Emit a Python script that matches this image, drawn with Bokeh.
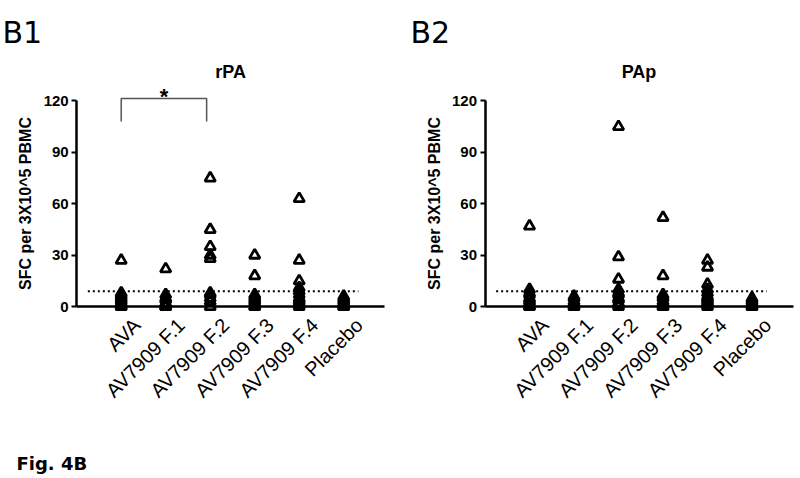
import math
from bokeh.plotting import figure
from bokeh.layouts import row
from bokeh.models import Range1d, FixedTicker, Label, ColumnDataSource
from bokeh.embed import file_html
from bokeh.resources import INLINE

# ---------------- data ----------------
groups = ["AVA", "AV7909 F.1", "AV7909 F.2", "AV7909 F.3", "AV7909 F.4", "Placebo"]
y_ticks = [0, 30, 60, 90, 120]
threshold = 9

rpa_ava = [27, 8, 7, 6, 5, 4, 3, 2, 1, 0, 0]
rpa_f1 = [22, 7, 5, 4, 2, 1, 0, 0, 0]
rpa_f2 = [75, 45, 35, 30, 28, 8, 7, 5, 3, 0]
rpa_f3 = [30, 18, 7, 6, 5, 4, 3, 2, 1, 0, 0]
rpa_f4 = [63, 27, 15, 11, 9, 7, 5, 4, 3, 2, 1, 0]
rpa_placebo = [6, 5, 4, 3, 2, 1, 0, 0]

pap_ava = [47, 10, 8, 7, 5, 4, 3, 2, 1, 0, 0]
pap_f1 = [6, 5, 3, 2, 1, 0, 0]
pap_f2 = [105, 29, 16, 10, 8, 7, 5, 4, 2, 1, 0]
pap_f3 = [52, 18, 7, 6, 5, 3, 2, 1, 0, 0]
pap_f4 = [27, 23, 13, 10, 8, 6, 5, 4, 3, 2, 1, 0]
pap_placebo = [5, 4, 3, 2, 1, 0, 0]

rpa_series = [rpa_ava, rpa_f1, rpa_f2, rpa_f3, rpa_f4, rpa_placebo]
pap_series = [pap_ava, pap_f1, pap_f2, pap_f3, pap_f4, pap_placebo]

FONT = "Liberation Sans"
TAG_FONT = "DejaVu Sans"

AX_X0, AX_X1 = -1.0, 5.92     # extent of the x axis line (category units)
Y_LO, Y_HI = -100.25, 178.58   # visible value range (frame covers the whole canvas)
LABEL_SHIFT = 0.35             # rotated category labels sit slightly right of their slot


def make_panel(series, title, tag, x_lo, x_hi, ax_x1, bracket=False, footer=False):
    p = figure(width=400, height=478, output_backend="svg", toolbar_location=None,
               x_range=Range1d(x_lo, x_hi), y_range=Range1d(Y_LO, Y_HI),
               min_border_left=0, min_border_right=0, min_border_top=0,
               min_border_bottom=0)
    p.outline_line_color = None
    p.xgrid.visible = False
    p.ygrid.visible = False

    xs, ys = [], []
    for i, vals in enumerate(series):
        xs.extend([i] * len(vals))
        ys.extend(vals)
    src = ColumnDataSource(dict(x=xs, y=ys))
    p.scatter("x", "y", source=src, marker="triangle", size=10.5, fill_color="white",
              fill_alpha=0.0, line_color="black", line_width=2.8)

    # threshold dotted line
    p.line([-0.75, 5.33], [threshold, threshold], line_color="black", line_width=2,
           line_dash="2 3")

    # y axis
    ya = p.yaxis[0]
    ya.fixed_location = AX_X0
    ya.ticker = FixedTicker(ticks=y_ticks)
    ya.bounds = (0, 120)
    ya.axis_line_width = 2.5
    ya.axis_line_color = "black"
    ya.major_tick_line_width = 2
    ya.major_tick_line_color = "black"
    ya.major_tick_out = 5
    ya.major_tick_in = 0
    ya.minor_tick_line_color = None
    ya.major_label_text_font = FONT
    ya.major_label_text_font_style = "bold"
    ya.major_label_text_font_size = "15px"
    ya.major_label_text_color = "black"
    ya.major_label_standoff = 3
    ya.axis_label = "SFC per 3X10^5 PBMC"
    ya.axis_label_text_font = FONT
    ya.axis_label_text_font_style = "bold"
    ya.axis_label_text_font_size = "16px"
    ya.axis_label_text_color = "black"
    ya.axis_label_standoff = 6

    # x axis
    tick_pos = [round(i + LABEL_SHIFT, 2) for i in range(len(groups))]
    xa = p.xaxis[0]
    xa.fixed_location = 0
    xa.bounds = (AX_X0, ax_x1)
    xa.ticker = FixedTicker(ticks=tick_pos)
    xa.major_label_overrides = {t: g for t, g in zip(tick_pos, groups)}
    xa.axis_line_width = 2.5
    xa.axis_line_color = "black"
    xa.major_tick_line_color = None
    xa.minor_tick_line_color = None
    xa.major_tick_out = 6
    xa.major_label_orientation = math.pi / 4
    xa.major_label_text_font = FONT
    xa.major_label_text_font_size = "20px"
    xa.major_label_text_color = "black"
    xa.major_label_standoff = 9

    # panel title
    p.add_layout(Label(x=(AX_X0 + AX_X1) / 2, y=137, text=title, text_align="center",
                       text_baseline="middle", text_font=FONT, text_font_style="bold",
                       text_font_size="18px", text_color="black"))
    # panel tag
    p.add_layout(Label(x=x_lo + (0.045 if tag == "B1" else 0.225), y=159.9, text=tag,
                       text_align="left", text_baseline="alphabetic", text_font=TAG_FONT,
                       text_font_size="30px", text_color="black"))

    if bracket:
        p.line([0, 0, 1.92, 1.92], [108, 121.4, 121.4, 108], line_color="#555555",
               line_width=1.5)
        p.add_layout(Label(x=0.96, y=122.8, text="*", text_align="center",
                           text_baseline="alphabetic", text_font=FONT,
                           text_font_style="bold", text_font_size="22px",
                           text_color="black"))
    if footer:
        p.add_layout(Label(x=x_lo + 0.36, y=-91.7, text="Fig. 4B", text_align="left",
                           text_baseline="alphabetic", text_font=TAG_FONT,
                           text_font_style="bold", text_font_size="18px",
                           text_color="black"))
    return p


left = make_panel(rpa_series, "rPA", "B1", -2.7124, 6.2764, 5.92, bracket=True, footer=True)
right = make_panel(pap_series, "PAp", "B2", -2.8989, 6.0899, 5.93)
layout = row(left, right, spacing=0)

open("out.html", "w").write(file_html(layout, INLINE))
